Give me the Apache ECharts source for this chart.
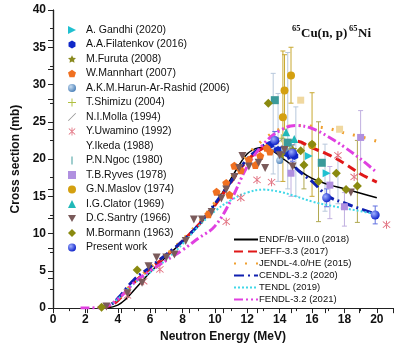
<!DOCTYPE html>
<html><head><meta charset="utf-8">
<script src="https://cdn.jsdelivr.net/npm/echarts@6/dist/echarts.min.js"></script>
<style>html,body{margin:0;padding:0;background:#fff}#c{width:396px;height:348px}</style>
</head><body><div id="c"></div>
<script>
// ---------- data ----------
const xTicks = [0,2,4,6,8,10,12,14,16,18,20];
const yTicks = [0,5,10,15,20,25,30,35,40];

const gandhi = [[15.8,20.4],[16.9,18.1]];
const filatenkov = [[13.4,21.9],[13.9,21.2],[14.4,20.8],[14.9,20.4]];
const furuta = [[14.1,20.6],[14.8,21.3]];
const mannhart = [[9.6,12.6],[10.1,15.6],[10.7,16.8],[10.9,15.2],[11.2,19.1],[11.6,18.5],[12.1,19.9],[12.5,19.2],[12.8,20.4],[13.2,21.5],[13.4,21.0]];
const harun = [[14.3,21.3],[14.0,19.8]];
const shimizu = [[14.6,21.8],[14.1,22.8]];
const molla = [[14.0,22.4],[14.7,21.6]];
const uwamino = [[4.6,1.7],[5.6,3.6],[6.6,5.2],[10.7,11.6],[11.6,14.8],[12.6,17.2],[13.5,16.9],[17.6,20.5],[18.6,17.6],[20.6,11.2]];
const ikeda = [[15.3,27.9],[17.7,24.0]];
const ngoc = [[13.7,27.9],[14.5,22.2],[16.6,19.5]];
const ryves = [[14.7,18.1],[17.1,16.5],[18.0,13.6],[19.0,22.9]];
const maslov = [[14.2,25.6],[14.3,29.2],[14.7,31.2],[16.0,21.9]];
const clator = [[14.4,23.6],[14.9,22.7]];
const santry = [[3.3,0.2],[4.6,2.0],[5.5,3.4],[5.9,5.6],[6.4,6.8],[7.0,6.8],[7.5,7.2],[8.2,9.0],[8.7,11.9],[9.2,11.9],[9.8,12.9],[10.4,14.7],[10.7,15.9],[11.2,17.6],[11.5,18.8],[11.7,20.4],[12.1,19.0],[12.7,19.5],[13.1,18.8],[14.0,20.5],[14.3,21.2],[14.8,19.0],[18.4,15.5]];
const bormann = [[3.0,0.1],[5.2,5.1],[13.3,27.5],[15.3,21.1],[15.5,19.2],[16.0,22.0],[16.4,17.0],[17.5,18.1],[18.1,15.9],[18.8,16.4]];
const present = [[13.7,22.5],[14.8,20.8],[16.9,14.8],[19.9,12.5]];

// error bars: [x, low, high]
const errMaslov = [[14.2,17.0,34.5],[14.3,24.0,34.0],[14.7,27.5,35.0],[16.0,15.0,28.9]];
const errBormann = [[16.4,11.6,25.0],[18.8,11.5,22.5],[15.5,16.0,22.0]];
const errRyves = [[19.0,18.0,26.5],[17.1,12.0,19.0],[18.0,11.0,15.5],[14.7,15.0,21.0]];
const errPresent = [[13.7,21.3,23.7],[14.8,19.7,21.9],[16.9,13.6,16.0],[19.9,11.3,13.7]];
const errOther = [[13.6,18.0,31.5],[13.9,17.0,28.8],[14.5,16.0,34.3],[15.0,15.0,27.0],[16.8,13.0,22.0],[17.6,14.0,20.0]];

const endf = [[3.3,0],[4,0.4],[4.5,1.2],[5,2.4],[5.5,3.6],[6,4.8],[7,6.9],[8,8.9],[9,11.1],[10,13.9],[11,17.4],[11.5,19.2],[12,20.7],[12.5,21.4],[13,21.6],[13.5,21.2],[14,20.4],[15,18.8],[16,17.4],[17,16.6],[18,16.0],[19,15.4],[20,14.8]];
const jeff = [[3.0,0],[3.5,0.3],[4,1.0],[5,3.4],[6,5.3],[7,7.0],[8,9.0],[9,11.2],[10,13.8],[11,16.9],[12,19.8],[13,21.5],[14,22.3],[15,22.4],[16,21.5],[17,20.6],[18,19.4],[19,18.0],[20,16.9]];
const jendl = [[3.0,0],[3.5,0.4],[4,1.2],[5,3.5],[6,5.4],[7,7.2],[8,9.2],[9,11.5],[10,14.2],[11,17.5],[12,20.5],[13,22.6],[14,24.0],[15,24.5],[16,24.4],[17,24.1],[18,23.5],[19,23.0],[20,22.4]];
const cendl = [[2.8,0],[3.5,0.4],[4,1.3],[5,3.8],[6,5.5],[7,7.2],[8,9.0],[9,11.2],[10,14.0],[11,17.0],[12,20.0],[13,21.8],[13.5,22.2],[14,21.9],[15,18.8],[16,17.0],[17,15.0],[18,14.1],[19,13.3],[20,12.6]];
const tendl = [[3.0,0],[3.5,0.4],[4,1.2],[5,3.3],[6,4.8],[7,6.5],[8,8.6],[9,11.0],[10,13.0],[11,14.5],[12,15.5],[13,15.9],[14,15.6],[15,15.0],[16,14.3],[17,13.8],[18,13.4],[19,13.0],[20,12.6]];
const fendl = [[1.7,0],[3,0.1],[4,1.2],[5,3.4],[6,5.0],[7,6.4],[8,7.8],[9,9.4],[10,11.0],[11,14.5],[12,19.0],[13,22.0],[14,23.8],[15,24.5],[16,24.1],[17,23.0],[18,21.6],[19,20.0],[20,18.2]];

// ---------- symbols ----------
const S = {
  rtri: 'path://M0,0 L10,5 L0,10 Z',
  dtri: 'path://M0,0 L10,0 L5,9 Z',
  star: 'path://M0,-10 L2.9,-4 L9.5,-3.1 L4.8,1.5 L5.9,8.1 L0,5 L-5.9,8.1 L-4.8,1.5 L-9.5,-3.1 L-2.9,-4 Z',
  pent: 'path://M0,-10 L9.5,-3.1 L5.9,8.1 L-5.9,8.1 L-9.5,-3.1 Z',
  hex: 'path://M0,-10 L8.7,-5 L8.7,5 L0,10 L-8.7,5 L-8.7,-5 Z',
  plus: 'path://M4.4,0 L5.6,0 L5.6,4.4 L10,4.4 L10,5.6 L5.6,5.6 L5.6,10 L4.4,10 L4.4,5.6 L0,5.6 L0,4.4 L4.4,4.4 Z',
  slash: 'path://M0,9.3 L9.3,0 L10,0.7 L0.7,10 Z',
  aster: 'path://M4.5,0 L5.5,0 L5.5,10 L4.5,10 Z M0.7,1.5 L1.4,0.8 L9.3,8.5 L8.6,9.2 Z M9.3,1.5 L8.6,0.8 L0.7,8.5 L1.4,9.2 Z',
  bar: 'path://M4.4,0 L5.6,0 L5.6,10 L4.4,10 Z',
  dash: 'path://M0,4.4 L10,4.4 L10,5.6 L0,5.6 Z'
};
function sphere(c0, c1) {
  return {type:'radial', x:0.35, y:0.35, r:0.7, colorStops:[{offset:0,color:c0},{offset:1,color:c1}]};
}

function sc(name, data, symbol, color, size, z) {
  return {name, type:'scatter', data, symbol, symbolSize:size||7, z:z||3,
    itemStyle:{color, opacity:1}, emphasis:{disabled:true}};
}
function eb(data, color) {
  return {type:'custom', data, z:1, silent:true,
    renderItem(params, api) {
      const x = api.value(0);
      const a = api.coord([x, api.value(1)]), b = api.coord([x, api.value(2)]);
      return {type:'group', children:[
        {type:'line', shape:{x1:a[0],y1:a[1],x2:b[0],y2:b[1]}, style:{stroke:color,lineWidth:1}},
        {type:'line', shape:{x1:a[0]-2.5,y1:a[1],x2:a[0]+2.5,y2:a[1]}, style:{stroke:color,lineWidth:1}},
        {type:'line', shape:{x1:b[0]-2.5,y1:b[1],x2:b[0]+2.5,y2:b[1]}, style:{stroke:color,lineWidth:1}}
      ]};
    }};
}
function ln(name, data, color, width, dash) {
  return {name, type:'line', data, symbol:'none', smooth:0.4, z:2,
    lineStyle:{color, width, type:dash}, itemStyle:{color}, emphasis:{disabled:true}};
}

const markerNames = ['A. Gandhi (2020)','A.A.Filatenkov (2016)','M.Furuta (2008)','W.Mannhart (2007)','A.K.M.Harun-Ar-Rashid (2006)','T.Shimizu (2004)','N.I.Molla (1994)','Y.Uwamino (1992)','Y.Ikeda (1988)','P.N.Ngoc (1980)','T.B.Ryves (1978)','G.N.Maslov (1974)','I.G.Clator (1969)','D.C.Santry (1966)','M.Bormann (1963)','Present work'];
const lineNames = ['ENDF/B-VIII.0 (2018)','JEFF-3.3 (2017)','JENDL-4.0/HE (2015)','CENDL-3.2 (2020)','TENDL (2019)','FENDL-3.2 (2021)'];

const series = [
  eb(errOther, '#b8c8dc'),
  eb(errMaslov, '#c8a830'),
  eb(errBormann, '#b0a850'),
  eb(errRyves, '#c0b0e0'),
  eb(errPresent, '#6070e0'),
  ln(lineNames[0], endf, '#000000', 1.5, 'solid'),
  ln(lineNames[1], jeff, '#e01818', 3, [9,5]),
  ln(lineNames[2], jendl, '#f0a030', 3, [2,9]),
  ln(lineNames[3], cendl, '#1020b0', 3, [10,4,2,4]),
  ln(lineNames[4], tendl, '#40d8e8', 2, [2,2]),
  ln(lineNames[5], fendl, '#e040e0', 3, [9,3,2,3,2,3]),
  sc(markerNames[0], gandhi, S.rtri, '#20c0d0', 8),
  sc(markerNames[1], filatenkov, S.hex, '#1028c8', 8),
  sc(markerNames[2], furuta, S.star, '#8a8a20', 9),
  sc(markerNames[3], mannhart, S.pent, '#f07020', 8),
  sc(markerNames[4], harun, 'circle', sphere('#c8dcf0','#4a80b8'), 7),
  sc(markerNames[5], shimizu, S.plus, '#b0c040', 8),
  sc(markerNames[6], molla, S.slash, '#909090', 8),
  sc(markerNames[7], uwamino, S.aster, '#e06878', 8),
  sc(markerNames[8], ikeda, S.dash, '#f0d8a0', 7),
  sc(markerNames[9], ngoc, S.bar, '#3a9a9a', 8),
  sc(markerNames[10], ryves, 'rect', '#b090e0', 7),
  sc(markerNames[11], maslov, 'circle', '#d4a010', 8),
  sc(markerNames[12], clator, 'triangle', '#20b8b8', 8),
  sc(markerNames[13], santry, S.dtri, '#7a5a5a', 8),
  sc(markerNames[14], bormann, 'diamond', '#8a8a10', 9),
  sc(markerNames[15], present, 'circle', sphere('#a0b0ff','#0a1ec8'), 9, 4)
];

const markerLegend = markerNames.map(n => n === 'Y.Ikeda (1988)' ? {name:n, itemStyle:{opacity:0}} : {name:n});

const F = 'Liberation Sans, Arial, sans-serif';
const chart = echarts.init(document.getElementById('c'), null, {renderer:'canvas'});
chart.setOption({
  animation:false,
  backgroundColor:'#fff',
  grid:{left:53, top:10, right:1, bottom:39, containLabel:false},
  legend:[
    {data:markerLegend, orient:'vertical', left:63, top:19, itemWidth:8, itemHeight:8, itemGap:2.5,
     symbolKeepAspect:true, selectedMode:false,
     textStyle:{fontFamily:F, fontSize:10.5, lineHeight:12, color:'#111', padding:[0,0,0,5]}},
    {data:lineNames, orient:'vertical', left:228, top:229, itemWidth:24, itemHeight:8, itemGap:1,
     selectedMode:false, itemStyle:{opacity:0},
     textStyle:{fontFamily:F, fontSize:9.5, lineHeight:11, color:'#111', padding:[0,0,0,-4]}}
  ],
  xAxis:[
    {type:'value', min:0, max:21, interval:2, position:'bottom',
     name:'Neutron Energy (MeV)', nameLocation:'middle', nameGap:22,
     nameTextStyle:{fontFamily:F, fontSize:12, fontWeight:'bold', color:'#111'},
     axisLine:{show:true, lineStyle:{color:'#222', width:1.2}},
     axisTick:{show:true, inside:false, length:5, lineStyle:{color:'#222'}},
     minorTick:{show:true, splitNumber:2, length:3, lineStyle:{color:'#222'}},
     axisLabel:{fontFamily:F, fontSize:12, fontWeight:'bold', color:'#111', margin:6,
       formatter:v => xTicks.includes(v) ? String(v) : ''},
     splitLine:{show:false}},
    {type:'value', min:0, max:21, interval:2.1, position:'top',
     axisLine:{show:true, lineStyle:{color:'#222', width:1.2}},
     axisTick:{show:true, inside:true, length:5, lineStyle:{color:'#222'}},
     axisLabel:{show:false}, splitLine:{show:false}}
  ],
  yAxis:[
    {type:'value', min:0, max:40, interval:5, position:'left',
     name:'Cross section (mb)', nameLocation:'middle', nameGap:31,
     nameTextStyle:{fontFamily:F, fontSize:12, fontWeight:'bold', color:'#111'},
     axisLine:{show:true, lineStyle:{color:'#222', width:1.2}},
     axisTick:{show:true, inside:false, length:5, lineStyle:{color:'#222'}},
     minorTick:{show:true, splitNumber:2, length:3, lineStyle:{color:'#222'}},
     axisLabel:{fontFamily:F, fontSize:12, fontWeight:'bold', color:'#111', margin:7,
       formatter:v => yTicks.includes(v) ? String(v) : ''},
     splitLine:{show:false}},
    {type:'value', min:0, max:40, interval:4, position:'right',
     axisLine:{show:true, lineStyle:{color:'#222', width:1.2}},
     axisTick:{show:true, inside:true, length:5, lineStyle:{color:'#222'}},
     axisLabel:{show:false}, splitLine:{show:false}}
  ],
  graphic:[
    {type:'text', left:292, top:24, style:{text:'65', font:'bold 8.5px "Liberation Serif", serif', fill:'#111'}},
    {type:'text', left:301, top:27, style:{text:'Cu(n, p)', font:'bold 13px "Liberation Serif", serif', fill:'#111'}},
    {type:'text', left:349, top:24, style:{text:'65', font:'bold 8.5px "Liberation Serif", serif', fill:'#111'}},
    {type:'text', left:358, top:27, style:{text:'Ni', font:'bold 13px "Liberation Serif", serif', fill:'#111'}}
  ],
  series
});
</script></body></html>
